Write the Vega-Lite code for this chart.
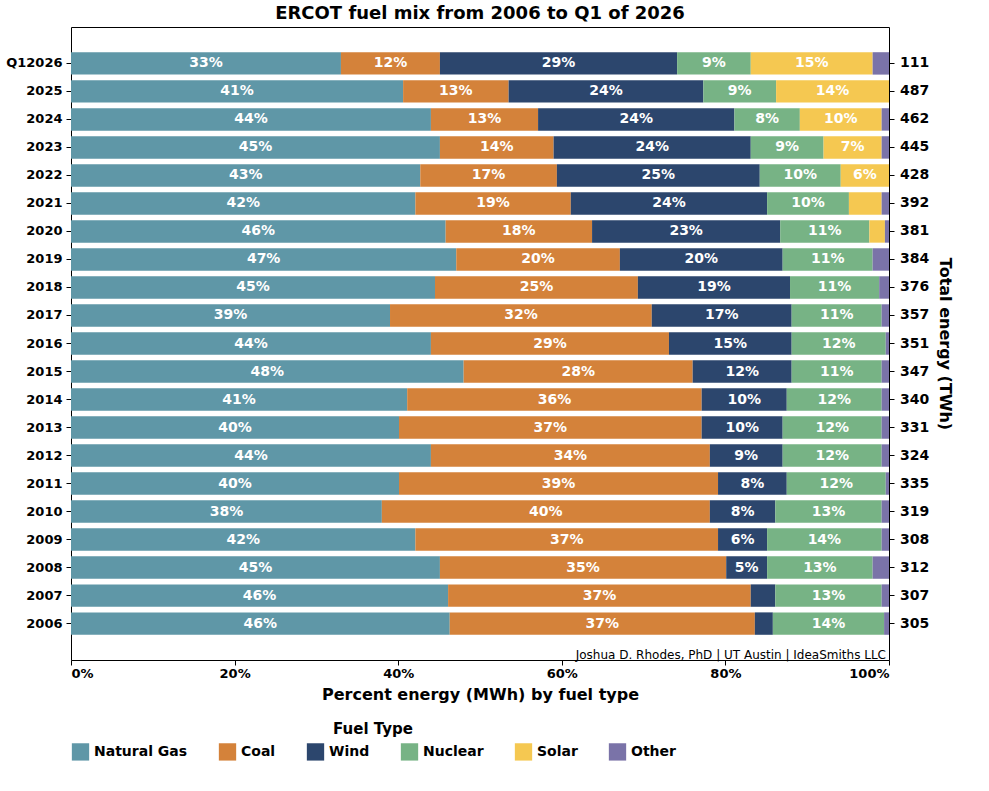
{
  "$schema": "https://vega.github.io/schema/vega-lite/v6.json",
  "width": 818,
  "height": 633,
  "config": {
    "font": "DejaVu Sans",
    "view": {"stroke": "black", "strokeWidth": 1},
    "axis": {"labelFontWeight": "bold", "labelFontSize": 13, "labelColor": "black", "titleFontSize": 16, "titleFontWeight": "bold", "titleColor": "black", "grid": false, "domain": false, "tickColor": "black"}
  },
  "title": {"text": "ERCOT fuel mix from 2006 to Q1 of 2026", "fontSize": 18, "fontWeight": "bold", "color": "black"},
  "resolve": {"axis": {"y": "independent"}},
  "datasets": {
    "mix": [
      {"year": "Q12026", "Natural Gas": 33.0, "Coal": 12.1, "Wind": 29.0, "Nuclear": 9.0, "Solar": 14.9, "Other": 2.0},
      {"year": "2025", "Natural Gas": 40.6, "Coal": 12.9, "Wind": 23.8, "Nuclear": 8.9, "Solar": 13.8, "Other": 0.0},
      {"year": "2024", "Natural Gas": 44.0, "Coal": 13.1, "Wind": 24.0, "Nuclear": 8.0, "Solar": 10.0, "Other": 0.9},
      {"year": "2023", "Natural Gas": 45.1, "Coal": 13.9, "Wind": 24.1, "Nuclear": 8.9, "Solar": 7.1, "Other": 0.9},
      {"year": "2022", "Natural Gas": 42.7, "Coal": 16.7, "Wind": 24.8, "Nuclear": 9.9, "Solar": 5.9, "Other": 0.0},
      {"year": "2021", "Natural Gas": 42.1, "Coal": 19.0, "Wind": 24.0, "Nuclear": 10.0, "Solar": 4.0, "Other": 0.9},
      {"year": "2020", "Natural Gas": 45.8, "Coal": 17.9, "Wind": 23.0, "Nuclear": 10.9, "Solar": 1.9, "Other": 0.5},
      {"year": "2019", "Natural Gas": 47.1, "Coal": 20.0, "Wind": 19.9, "Nuclear": 11.0, "Solar": 0.0, "Other": 2.0},
      {"year": "2018", "Natural Gas": 44.5, "Coal": 24.8, "Wind": 18.6, "Nuclear": 10.9, "Solar": 0.0, "Other": 1.2},
      {"year": "2017", "Natural Gas": 39.0, "Coal": 32.0, "Wind": 17.1, "Nuclear": 11.0, "Solar": 0.0, "Other": 0.9},
      {"year": "2016", "Natural Gas": 44.0, "Coal": 29.1, "Wind": 15.0, "Nuclear": 11.5, "Solar": 0.0, "Other": 0.4},
      {"year": "2015", "Natural Gas": 48.0, "Coal": 28.0, "Wind": 12.1, "Nuclear": 11.0, "Solar": 0.0, "Other": 0.9},
      {"year": "2014", "Natural Gas": 41.1, "Coal": 36.0, "Wind": 10.4, "Nuclear": 11.6, "Solar": 0.0, "Other": 0.9},
      {"year": "2013", "Natural Gas": 40.1, "Coal": 37.0, "Wind": 9.9, "Nuclear": 12.1, "Solar": 0.0, "Other": 0.9},
      {"year": "2012", "Natural Gas": 44.0, "Coal": 34.1, "Wind": 8.9, "Nuclear": 12.1, "Solar": 0.0, "Other": 0.9},
      {"year": "2011", "Natural Gas": 40.1, "Coal": 39.0, "Wind": 8.4, "Nuclear": 12.1, "Solar": 0.0, "Other": 0.4},
      {"year": "2010", "Natural Gas": 38.0, "Coal": 40.1, "Wind": 8.0, "Nuclear": 13.0, "Solar": 0.0, "Other": 0.9},
      {"year": "2009", "Natural Gas": 42.1, "Coal": 37.0, "Wind": 6.0, "Nuclear": 14.0, "Solar": 0.0, "Other": 0.9},
      {"year": "2008", "Natural Gas": 45.1, "Coal": 35.0, "Wind": 5.0, "Nuclear": 12.9, "Solar": 0.0, "Other": 2.0},
      {"year": "2007", "Natural Gas": 46.1, "Coal": 37.0, "Wind": 3.0, "Nuclear": 13.0, "Solar": 0.0, "Other": 0.9},
      {"year": "2006", "Natural Gas": 46.3, "Coal": 37.3, "Wind": 2.2, "Nuclear": 13.6, "Solar": 0.0, "Other": 0.6}
    ],
    "totals": [
      {"year": "Q12026", "total": 111}, {"year": "2025", "total": 487}, {"year": "2024", "total": 462},
      {"year": "2023", "total": 445}, {"year": "2022", "total": 428}, {"year": "2021", "total": 392},
      {"year": "2020", "total": 381}, {"year": "2019", "total": 384}, {"year": "2018", "total": 376},
      {"year": "2017", "total": 357}, {"year": "2016", "total": 351}, {"year": "2015", "total": 347},
      {"year": "2014", "total": 340}, {"year": "2013", "total": 331}, {"year": "2012", "total": 324},
      {"year": "2011", "total": 335}, {"year": "2010", "total": 319}, {"year": "2009", "total": 308},
      {"year": "2008", "total": 312}, {"year": "2007", "total": 307}, {"year": "2006", "total": 305}
    ]
  },
  "layer": [
    {
      "data": {"name": "mix"},
      "transform": [
        {"fold": ["Natural Gas", "Coal", "Wind", "Nuclear", "Solar", "Other"], "as": ["fuel", "pct"]},
        {"calculate": "indexof(['Natural Gas','Coal','Wind','Nuclear','Solar','Other'], datum.fuel)", "as": "ord"},
        {"window": [{"op": "sum", "field": "pct", "as": "cum"}], "groupby": ["year"], "sort": [{"field": "ord"}]},
        {"calculate": "datum.cum - datum.pct", "as": "start"},
        {"calculate": "datum.cum - datum.pct / 2", "as": "mid"}
      ],
      "layer": [
        {
          "mark": {"type": "bar"},
          "encoding": {
            "y": {"field": "year", "type": "nominal", "sort": "descending", "title": null,
                  "scale": {"paddingInner": 0.2, "paddingOuter": 0.9},
                  "axis": {"labelPadding": 4}},
            "x": {"field": "start", "type": "quantitative", "scale": {"domain": [0, 100], "nice": false},
                  "title": "Percent energy (MWh) by fuel type",
                  "axis": {"values": [0, 20, 40, 60, 80, 100], "labelExpr": "datum.value + '%'", "titlePadding": 6}},
            "x2": {"field": "cum"},
            "color": {"field": "fuel", "type": "nominal",
                      "sort": ["Natural Gas", "Coal", "Wind", "Nuclear", "Solar", "Other"],
                      "scale": {"domain": ["Natural Gas", "Coal", "Wind", "Nuclear", "Solar", "Other"],
                                "range": ["#5F97A7", "#D4823A", "#2C466D", "#77B385", "#F5C851", "#7A73A8"]},
                      "legend": {"title": "Fuel Type", "orient": "bottom", "direction": "horizontal", "titleAnchor": "middle",
                                 "titleFontSize": 15, "titleFontWeight": "bold", "titleColor": "black",
                                 "labelFontSize": 14, "labelFontWeight": "bold", "labelColor": "black",
                                 "symbolType": "square", "symbolSize": 300, "columnPadding": 30, "offset": 20}}
          }
        },
        {
          "transform": [{"filter": "datum.pct >= 4.8"}, {"calculate": "format(datum.pct, '.0f') + '%'", "as": "lbl"}],
          "mark": {"type": "text", "color": "white", "fontWeight": "bold", "fontSize": 14},
          "encoding": {
            "y": {"field": "year", "type": "nominal", "sort": "descending"},
            "x": {"field": "mid", "type": "quantitative"},
            "text": {"field": "lbl"}
          }
        }
      ]
    },
    {
      "data": {"name": "totals"},
      "mark": {"type": "text", "align": "left", "dx": 11, "fontWeight": "bold", "fontSize": 14, "color": "black"},
      "encoding": {
        "y": {"field": "year", "type": "nominal", "sort": "descending",
              "axis": {"orient": "right", "labels": false, "title": "Total energy (TWh)", "titlePadding": 42}},
        "x": {"datum": 100},
        "text": {"field": "total"}
      }
    },
    {
      "data": {"values": [{"credit": "Joshua D. Rhodes, PhD | UT Austin | IdeaSmiths LLC"}]},
      "mark": {"type": "text", "align": "right", "dx": -3, "dy": 31, "fontSize": 12, "color": "black"},
      "encoding": {"x": {"datum": 100}, "y": {"datum": "2006", "axis": null}, "text": {"field": "credit"}}
    }
  ]
}
